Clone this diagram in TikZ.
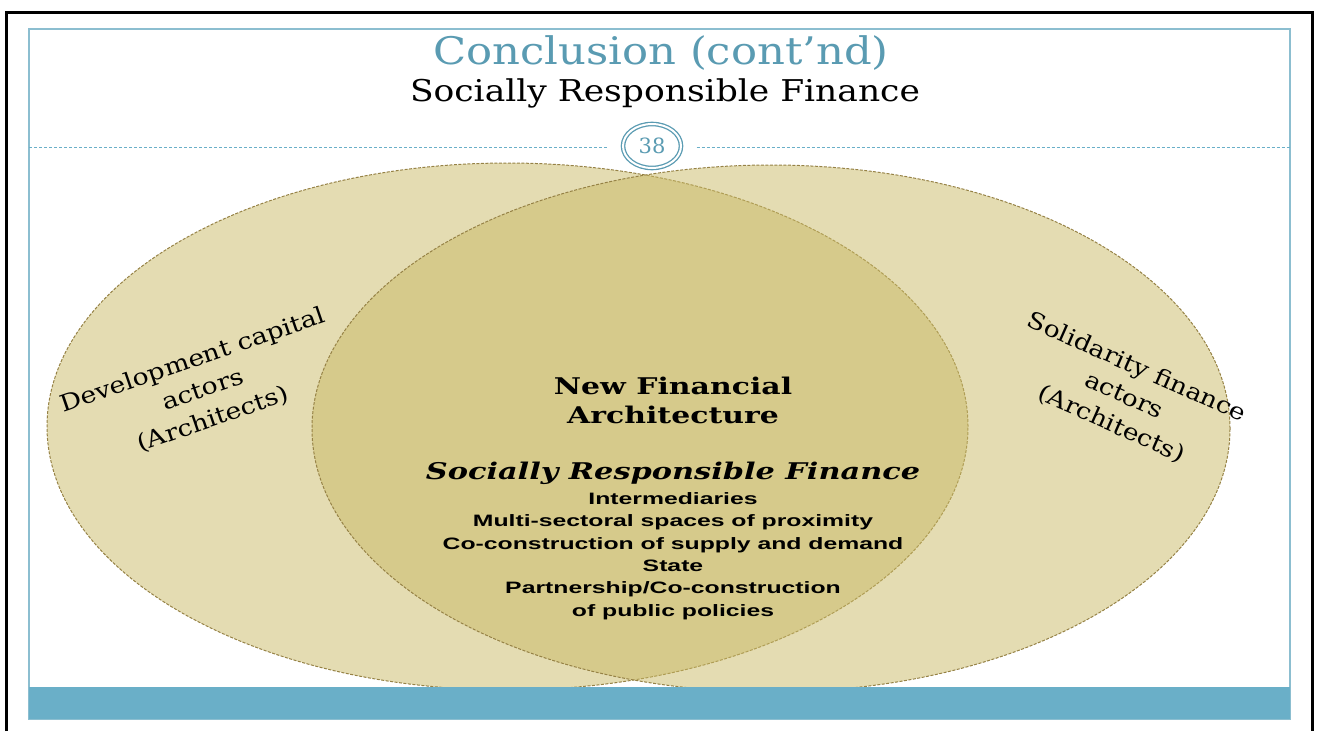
\documentclass[tikz,border=0pt]{standalone}
\usepackage{fontspec}
\setmainfont{DejaVu Serif}
\newfontfamily\listfont{Liberation Sans}
\usetikzlibrary{shapes.geometric}

\definecolor{slideblue}{RGB}{106,175,200}
\definecolor{titleblue}{RGB}{90,155,178}
\definecolor{framecol}{RGB}{140,190,208}
\definecolor{tan}{RGB}{201,185,101}
\definecolor{tanedge}{RGB}{150,130,70}

\begin{document}
\begin{tikzpicture}[x=1pt, y=-1pt,
    actors/.style={
      ellipse,
      inner sep=0pt,
      fill=tan,
      fill opacity=0.5,
      draw=tanedge,
      dash pattern=on 3pt off 1.5pt,
      line width=1pt
    },
    wide/.style={
      xscale=#1,
      transform shape
    },
    lbl/.style={
      align=center,
      font=\fontsize{23}{31}\selectfont
    },
    pagenum/.style={
      ellipse,
      draw=titleblue,
      double=white,
      double distance=2pt,
      line width=1.3pt,
      fill=white,
      minimum width=58pt,
      minimum height=44pt,
      text=titleblue,
      font=\fontsize{21}{21}\selectfont
    }
  ]

  \useasboundingbox (0,0) rectangle (1317,731);

  % slide frame
  \draw[line width=3pt] (6,731) -- (6,12) -- (1312,12) -- (1312,731);
  \draw[framecol, line width=1.2pt] (29,29) rectangle (1290,719);

  \node[wide=1.14, font=\fontsize{38}{38}\selectfont, text=titleblue, anchor=base] (title) at (661,64) {Conclusion (cont’nd)};
  \node[wide=1.15, font=\fontsize{30}{30}\selectfont, anchor=base] (sub) at (665,101) {Socially Responsible Finance};

  \node[pagenum] (num) at (652,146) {38};
  \coordinate (ls) at (29,147);
  \coordinate (re) at (1290,147);
  \draw[slideblue, dash pattern=on 3pt off 2pt, line width=0.9pt] (ls) -- ([xshift=-15pt]num.west |- ls);
  \draw[slideblue, dash pattern=on 3pt off 2pt, line width=0.9pt] ([xshift=15pt]num.east |- re) -- (re);

  % the two circles of actors
  \node[actors, minimum width=921pt, minimum height=527pt] (dev) at (507.5,426.5) {};
  \node[actors, minimum width=918pt, minimum height=527pt] (sol) at (771,428.5) {};

  \fill[slideblue] (29,687) rectangle (1290,719);

  \node[lbl, rotate=19, wide=1.16] (devlbl) at (203,390) {Development capital\\actors\\(Architects)};
  \node[lbl, rotate=-24, wide=1.15] (sollbl) at (1124,396) {Solidarity finance\\actors\\(Architects)};

  \node[align=center, wide=1.3, font=\bfseries\fontsize{23}{29}\selectfont] (core) at (673,400) {New Financial\\Architecture};
  \node[wide=1.32, font=\bfseries\itshape\fontsize{23}{23}\selectfont, anchor=base] (srf) at (673,479) {Socially Responsible Finance};
  \node[align=center, wide=1.5, font=\listfont\bfseries\fontsize{16.5}{22.3}\selectfont] (list) at (673,556)
    {Intermediaries\\Multi-sectoral spaces of proximity\\Co-construction of supply and demand\\State\\Partnership/Co-construction\\of public policies};

\end{tikzpicture}
\end{document}
